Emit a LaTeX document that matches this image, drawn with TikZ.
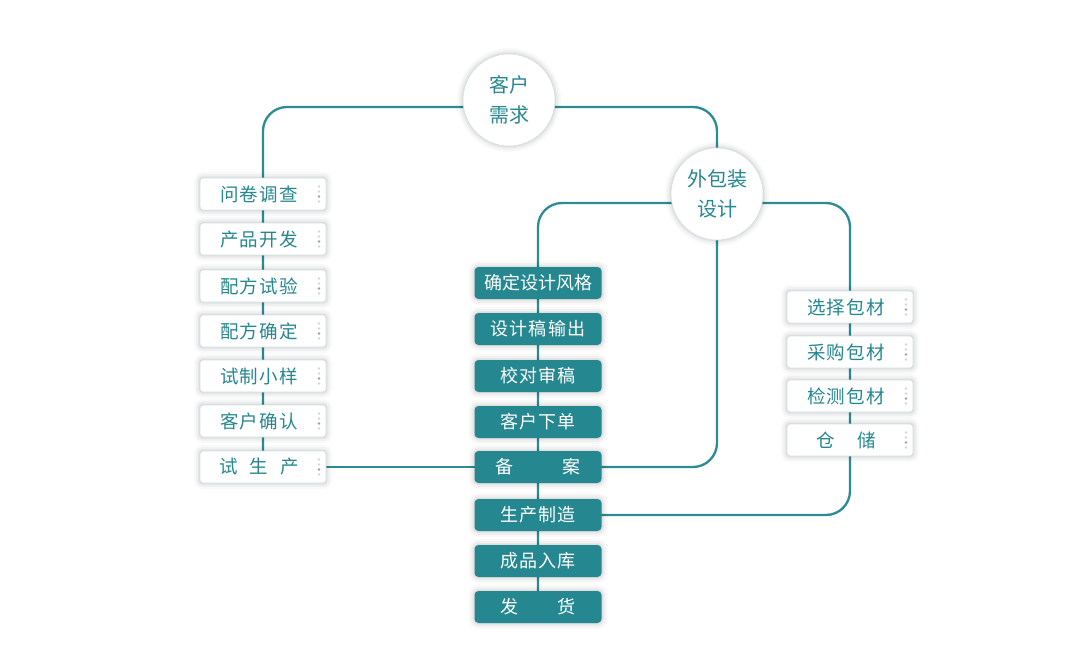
\documentclass[tikz,border=0pt]{standalone}
\usepackage{fontspec}
\newfontfamily\cjk[LetterSpace=6]{Noto Sans CJK SC}
\newfontfamily\cjktight{Noto Sans CJK SC}
\usetikzlibrary{calc}
\definecolor{teal1}{HTML}{25878F}
\definecolor{lineC}{HTML}{2B8C95}
\definecolor{dotL}{HTML}{D3D7D9}
\definecolor{dotD}{HTML}{9AA0A4}
\definecolor{edgeC}{HTML}{D2E2E4}
\pgfdeclarelayer{bg}\pgfdeclarelayer{lines}\pgfsetlayers{bg,lines,main}
\newcommand{\wtxt}[1]{#1\hspace*{8pt}}
\begin{document}
\begin{tikzpicture}[x=1pt,y=-1pt,
 soft/.style={
   preaction={draw=black, draw opacity=0.025, line width=12pt},
   preaction={draw=black, draw opacity=0.03, line width=8pt},
   preaction={draw=black, draw opacity=0.035, line width=4.5pt},
   preaction={draw=black, draw opacity=0.04, line width=2pt}},
 wbox/.style={soft, draw=edgeC, line width=0.8pt, fill=white, rounded corners=3pt,
   minimum width=126pt, minimum height=32pt, inner sep=0pt, text=teal1,
   font=\cjk\fontsize{18.5}{20}\selectfont,
   path picture={
     \fill[dotL] ([xshift=-7pt,yshift=7.5pt]path picture bounding box.east) circle (1.4pt);
     \fill[dotL] ([xshift=-7pt,yshift=2.5pt]path picture bounding box.east) circle (1.4pt);
     \fill[dotD] ([xshift=-7pt,yshift=-2.5pt]path picture bounding box.east) circle (1.4pt);
     \fill[dotL] ([xshift=-7pt,yshift=-7.5pt]path picture bounding box.east) circle (1.4pt);
   }},
 tbox/.style={soft, fill=teal1, rounded corners=4pt, minimum width=127pt, minimum height=32pt,
   inner sep=0pt, text=white, font=\cjk\fontsize{18}{20}\selectfont},
 circ/.style={soft, circle, fill=white, draw=edgeC, line width=0.6pt, minimum size=92pt, inner sep=0pt,
   text=teal1, align=center, font=\cjktight\fontsize{20}{30}\selectfont},
 conn/.style={draw=lineC, line width=2.3pt, rounded corners=24pt}]
\begin{pgfonlayer}{bg}
\fill[white] (0,0) rectangle (1080,664);
\end{pgfonlayer}
\useasboundingbox (0,0) rectangle (1080,664);

% circles
\node[circ] (c1) at (509,100) {客户\\需求};
\node[circ] (c2) at (717,194) {外包装\\设计};

% left column
\node[wbox] (l1) at (263,194) {\wtxt{问卷调查}};
\node[wbox] (l2) at (263,239) {\wtxt{产品开发}};
\node[wbox] (l3) at (263,286) {\wtxt{配方试验}};
\node[wbox] (l4) at (263,331) {\wtxt{配方确定}};
\node[wbox] (l5) at (263,376) {\wtxt{试制小样}};
\node[wbox] (l6) at (263,421) {\wtxt{客户确认}};
\node[wbox] (l7) at (263,467) {\wtxt{试\hspace{12pt}生\hspace{12pt}产}};

% center column
\node[tbox,font=\cjktight\fontsize{18}{20}\selectfont] (m1) at (538,283) {确定设计风格};
\node[tbox] (m2) at (538,329) {设计稿输出};
\node[tbox] (m3) at (538,376) {校对审稿};
\node[tbox] (m4) at (538,422) {客户下单};
\node[tbox] (m5) at (538,467) {备\hspace{50pt}案};
\node[tbox] (m6) at (538,515) {生产制造};
\node[tbox] (m7) at (538,561) {成品入库};
\node[tbox] (m8) at (538,607) {发\hspace{40pt}货};

% right column
\node[wbox] (r1) at (850,307) {\wtxt{选择包材}};
\node[wbox] (r2) at (850,352) {\wtxt{采购包材}};
\node[wbox] (r3) at (850,396) {\wtxt{检测包材}};
\node[wbox] (r4) at (850,440) {\wtxt{仓\hspace{22pt}储}};

\begin{pgfonlayer}{lines}
\draw[conn] ([yshift=-7pt]c1.center) -| (l7.center);
\draw[conn] ([yshift=-7pt]c1.center) -| (c2.center);
\draw[conn] ([yshift=-9pt]c2.center) -| (m8.center);
\draw[conn] ([yshift=-9pt]c2.center) -| (r1.center) |- (m6.center);
\draw[conn] (c2.center) |- (m5.center);
\draw[conn] (l7.center) -- (m5.center);
\end{pgfonlayer}
\end{tikzpicture}
\end{document}
